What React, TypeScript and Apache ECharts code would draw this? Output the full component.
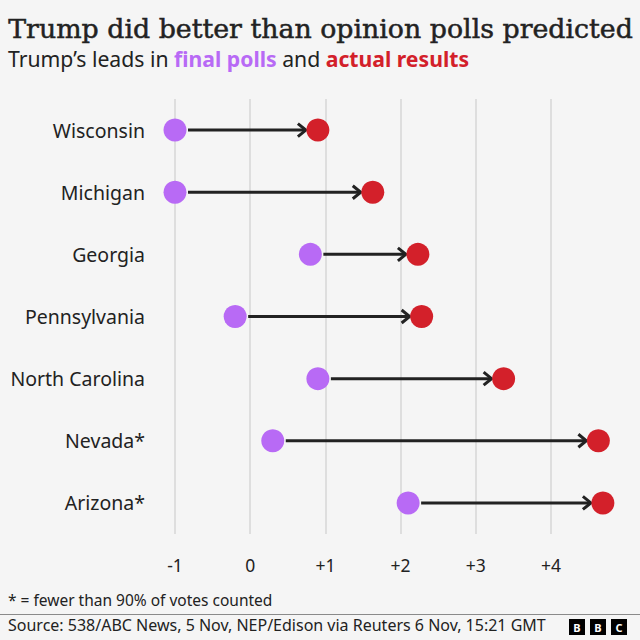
import React, { useEffect, useRef } from "react";
import * as echarts from "echarts";

const states = ["Wisconsin", "Michigan", "Georgia", "Pennsylvania", "North Carolina", "Nevada*", "Arizona*"];
const finalPolls = [-1.0, -1.0, 0.8, -0.2, 0.9, 0.3, 2.1];
const actualResults = [0.9, 1.63, 2.23, 2.28, 3.37, 4.63, 4.69];
const xTicks = [-1, 0, 1, 2, 3, 4];

const PURPLE = "#b86af5";
const RED = "#d3202a";
const DARK = "#222222";
const SANS = "'Noto Sans', 'Open Sans', sans-serif";

export default function App() {
  const ref = useRef<HTMLDivElement>(null);
  useEffect(() => {
    document.body.style.margin = "0";
    const chart = echarts.init(ref.current!, null, { renderer: "svg" });
    const option: any = {
      animation: false,
      backgroundColor: "#f5f5f5",
      grid: { left: 175, right: 89, top: 99, bottom: 106, containLabel: false },
      xAxis: {
        type: "value",
        min: xTicks[0],
        max: xTicks[xTicks.length - 1],
        interval: 1,
        axisLine: { show: false },
        axisTick: { show: false },
        splitLine: { show: true, lineStyle: { color: "#d6d6d6", width: 1.5 } },
        axisLabel: {
          fontSize: 17.5,
          fontFamily: SANS,
          color: DARK,
          margin: 22,
          formatter: (v: number) => (v > 0 ? "+" + v : String(v)),
        },
      },
      yAxis: {
        type: "category",
        data: states,
        inverse: true,
        axisLine: { show: false },
        axisTick: { show: false },
        splitLine: { show: false },
        axisLabel: { fontSize: 19.5, fontFamily: SANS, color: DARK, margin: 30 },
      },
      series: [
        {
          type: "custom",
          clip: false,
          z: 2,
          encode: { x: [0, 1], y: 2 },
          data: states.map((s, i) => [finalPolls[i], actualResults[i], i]),
          renderItem: (params: any, api: any) => {
            const p = api.coord([api.value(0), api.value(2)]);
            const r = api.coord([api.value(1), api.value(2)]);
            const x0 = p[0] + 13;
            const tip = r[0] - 12;
            const y = p[1];
            const style = { stroke: DARK, lineWidth: 3, fill: null, lineCap: "butt", lineJoin: "miter" };
            return {
              type: "group",
              children: [
                { type: "line", shape: { x1: x0, y1: y, x2: tip - 1, y2: y }, style },
                { type: "polyline", shape: { points: [[tip - 8, y - 6.5], [tip, y], [tip - 8, y + 6.5]] }, style },
              ],
            };
          },
        },
        {
          type: "scatter",
          clip: false,
          z: 3,
          symbolSize: 23,
          itemStyle: { color: PURPLE, opacity: 1 },
          data: states.map((s, i) => [finalPolls[i], s]),
        },
        {
          type: "scatter",
          clip: false,
          z: 3,
          symbolSize: 23,
          itemStyle: { color: RED, opacity: 1 },
          data: states.map((s, i) => [actualResults[i], s]),
        },
      ],
      graphic: [
        {
          type: "text",
          left: 8,
          top: 15,
          style: {
            text: "Trump did better than opinion polls predicted",
            fontFamily: "'DejaVu Serif', serif",
            fontSize: 26.8,
            fill: DARK,
            stroke: DARK,
            lineWidth: 0.5,
          },
        },
        {
          type: "text",
          left: 8,
          top: 48,
          style: {
            text: "{n|Trump’s leads in }{p|final polls}{n| and }{r|actual results}",
            rich: {
              n: { fontFamily: SANS, fontSize: 21.2, fill: DARK },
              p: { fontFamily: SANS, fontSize: 21.2, fontWeight: "bold", fill: PURPLE },
              r: { fontFamily: SANS, fontSize: 21.2, fontWeight: "bold", fill: RED },
            },
          },
        },
        {
          type: "text",
          left: 8,
          top: 592,
          style: { text: "* = fewer than 90% of votes counted", fontFamily: SANS, fontSize: 15.5, fill: DARK },
        },
        {
          type: "line",
          shape: { x1: 0, y1: 614.5, x2: 640, y2: 614.5 },
          style: { stroke: "#8a8a8a", lineWidth: 1 },
        },
        {
          type: "text",
          left: 8,
          top: 617,
          style: {
            text: "Source: 538/ABC News, 5 Nov, NEP/Edison via Reuters 6 Nov, 15:21 GMT",
            fontFamily: SANS,
            fontSize: 16,
            fill: DARK,
          },
        },
        ...["B", "B", "C"].flatMap((l, i) => [
          { type: "rect", shape: { x: 569 + i * 21, y: 619, width: 16, height: 16 }, style: { fill: "#000" } },
          {
            type: "text",
            x: 577 + i * 21,
            y: 627,
            style: {
              text: l,
              fontFamily: SANS,
              fontWeight: "bold",
              fontSize: 11,
              fill: "#fff",
              align: "center",
              verticalAlign: "middle",
            },
          },
        ]),
      ],
    };
    chart.setOption(option);
    return () => chart.dispose();
  }, []);
  return (
    <div
      ref={ref}
      style={{ position: "absolute", left: 0, top: 0, width: 640, height: 640, background: "#f5f5f5" }}
    />
  );
}
